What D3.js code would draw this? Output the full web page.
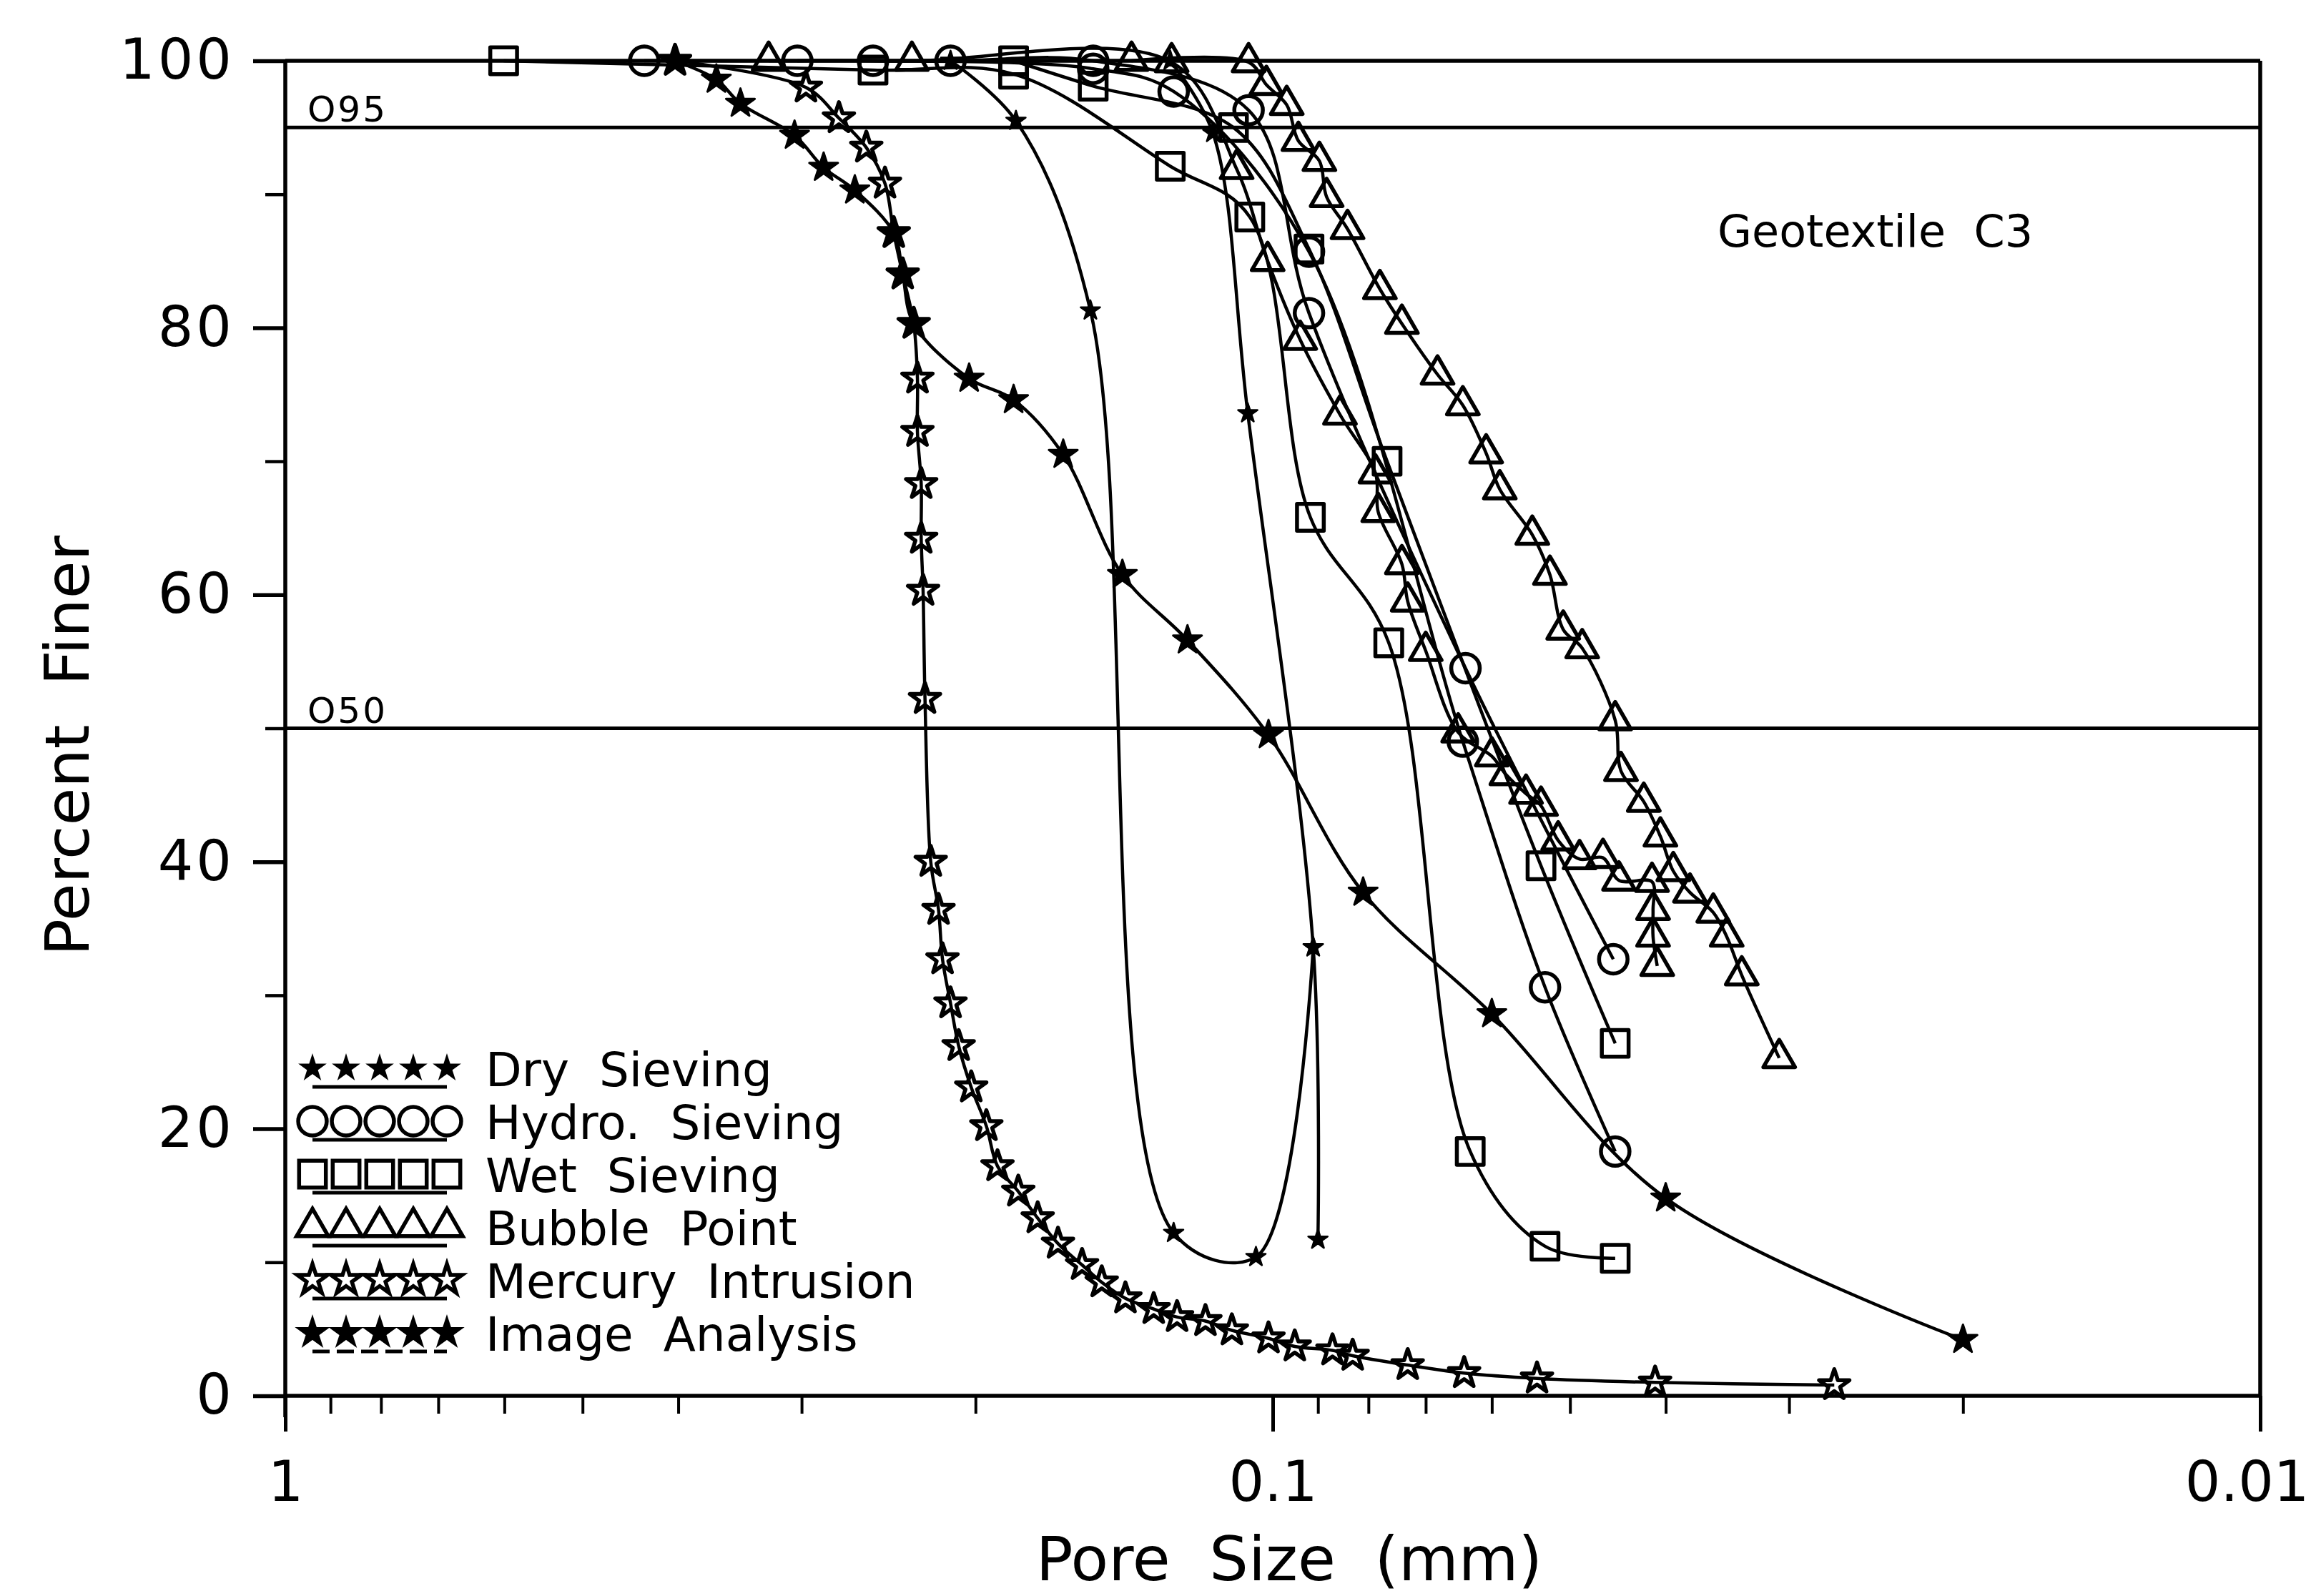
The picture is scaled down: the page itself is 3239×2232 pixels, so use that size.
<!DOCTYPE html>
<html>
<head>
<meta charset="utf-8">
<script src="https://cdn.jsdelivr.net/npm/d3@7"></script>
<style>
  body { margin: 0; background: #fff; }
  svg { display: block; background: #fff; }
  text { font-family: "DejaVu Sans", sans-serif; fill: #000; }
</style>
</head>
<body>
<svg id="chart"></svg>
<script>
// ---- data (pore size in mm, percent finer) ----
const drySize1 = [0.212, 0.182, 0.153, 0.126, 0.104, 0.091];
const dryPct1  = [100, 95.5, 81.3, 12.2, 10.4, 33.6];
const drySize2 = [0.127, 0.115, 0.106, 0.091, 0.090];
const dryPct2  = [100, 94.6, 73.6, 33.6, 11.7];

const hydroSize1 = [0.433, 0.212, 0.152, 0.1058, 0.0919, 0.0638, 0.0452];
const hydroPct1  = [100, 100, 100, 96.3, 81.1, 54.5, 32.7];
const hydroSize2 = [0.303, 0.254, 0.152, 0.126, 0.0919, 0.0642, 0.0530, 0.0450];
const hydroPct2  = [100, 100, 99.4, 97.7, 85.7, 49.0, 30.6, 18.3];

const wetSize1 = [0.601, 0.254, 0.183, 0.127, 0.1055, 0.0916, 0.0763, 0.0631, 0.0530, 0.0450];
const wetPct1  = [100, 99.3, 99.0, 92.1, 88.3, 65.8, 56.4, 18.3, 11.2, 10.3];
const wetSize2 = [0.183, 0.152, 0.1096, 0.0919, 0.0766, 0.0535, 0.0450];
const wetPct2  = [100, 98.1, 95.0, 85.9, 70.0, 39.7, 26.4];

const bubbleSize1 = [0.139, 0.1058, 0.1015, 0.0968, 0.0942, 0.0897, 0.0882, 0.0840, 0.0779, 0.0740,
  0.0681, 0.0642, 0.0608, 0.0589, 0.0546, 0.0524, 0.0508, 0.0486, 0.0450, 0.0444, 0.0421, 0.0405,
  0.0393, 0.0378, 0.0358, 0.0347, 0.0335, 0.0307];
const bubblePct1  = [100, 99.9, 98.2, 96.7, 94.0, 92.5, 89.8, 87.4, 82.9, 80.3, 76.5, 74.2, 70.6, 67.9,
  64.5, 61.5, 57.4, 56.0, 50.6, 46.8, 44.5, 41.9, 39.3, 37.7, 36.2, 34.4, 31.5, 25.3];
const bubbleSize2 = [0.324, 0.232, 0.1266, 0.1088, 0.1012, 0.0938, 0.0855, 0.0787, 0.0782, 0.0740,
  0.0730, 0.0700, 0.0649, 0.0600, 0.0580, 0.0554, 0.0535, 0.0514, 0.0489, 0.0463, 0.0446, 0.0413,
  0.0412, 0.0412, 0.0408];
const bubblePct2  = [100, 100, 99.9, 91.9, 85.0, 79.1, 73.5, 69.1, 66.2, 62.3, 59.5, 55.8, 49.7, 47.9,
  46.5, 45.1, 44.2, 41.6, 40.2, 40.3, 38.6, 38.5, 36.4, 34.4, 32.2];

const mercurySize = [0.403, 0.297, 0.275, 0.258, 0.247, 0.242, 0.237, 0.231, 0.229, 0.229, 0.227, 0.227,
  0.226, 0.225, 0.222, 0.218, 0.216, 0.212, 0.208, 0.202, 0.195, 0.190, 0.181, 0.173, 0.165, 0.156,
  0.149, 0.141, 0.132, 0.125, 0.117, 0.110, 0.101, 0.095, 0.087, 0.083, 0.073, 0.064, 0.054, 0.041, 0.027];
const mercuryPct  = [100, 98.0, 95.7, 93.5, 90.8, 87.1, 84.0, 80.3, 76.2, 72.2, 68.3, 64.2, 60.3, 52.2,
  40.0, 36.4, 32.7, 29.4, 26.2, 23.1, 20.2, 17.2, 15.3, 13.3, 11.4, 9.8, 8.5, 7.3, 6.5, 5.9, 5.6, 4.9,
  4.3, 3.7, 3.4, 3.0, 2.3, 1.7, 1.3, 1.0, 0.8];

const imageSize = [0.403, 0.366, 0.346, 0.305, 0.285, 0.265, 0.242, 0.237, 0.231, 0.203, 0.183, 0.163,
  0.142, 0.122, 0.101, 0.081, 0.060, 0.040, 0.020];
const imagePct  = [100, 98.6, 96.8, 94.4, 92.0, 90.3, 87.1, 84.0, 80.3, 76.2, 74.6, 70.5, 61.5, 56.6,
  49.5, 37.7, 28.6, 14.8, 4.2];

const methods = ["Dry  Sieving", "Hydro.  Sieving", "Wet  Sieving", "Bubble  Point", "Mercury  Intrusion", "Image  Analysis"];
const yTicks = [0, 20, 40, 60, 80, 100];
const yMinor = [10, 30, 50, 70, 90];
const xMajor = [1, 0.1, 0.01];
const refLines = [{pct: 95, label: "O95"}, {pct: 50, label: "O50"}];
const title = "Geotextile  C3";

// ---- setup ----
const W = 3239, H = 2232;
const svg = d3.select("#chart").attr("width", W).attr("height", H);

const x = d3.scaleLog().domain([1, 0.01]).range([399, 3161]);
const y = d3.scaleLinear().domain([0, 100]).range([1952, 85]);

// marker styles per method
const markers = [
  {type: d3.symbolStar,     size: 230,  fill: "#000", sw: 2.5},
  {type: d3.symbolCircle,   size: 1250, fill: "none", sw: 5.5},
  {type: d3.symbolSquare,   size: 1400, fill: "none", sw: 5.5},
  {type: d3.symbolTriangle, size: 850,  fill: "none", sw: 5.5},
  {type: d3.symbolStar,     size: 560,  fill: "none", sw: 5.5},
  {type: d3.symbolStar,     size: 500,  fill: "#000", sw: 3}
];

const zip = (s, p) => s.map((v, i) => ({s: v, p: p[i]}));
const series = [
  {m: 0, pts: zip(drySize1, dryPct1)},
  {m: 0, pts: zip(drySize2, dryPct2)},
  {m: 1, pts: zip(hydroSize1, hydroPct1)},
  {m: 1, pts: zip(hydroSize2, hydroPct2)},
  {m: 2, pts: zip(wetSize1, wetPct1)},
  {m: 2, pts: zip(wetSize2, wetPct2)},
  {m: 3, pts: zip(bubbleSize1, bubblePct1)},
  {m: 3, pts: zip(bubbleSize2, bubblePct2)},
  {m: 4, pts: zip(mercurySize, mercuryPct)},
  {m: 5, pts: zip(imageSize, imagePct)}
];

// ---- axes ----
const xMinor = [];
[1, 0.1].forEach(dec => { for (let k = 2; k <= 9; k++) xMinor.push(dec * k / 10); });

svg.append("g").attr("transform", `translate(0,${y(0)})`)
  .call(d3.axisBottom(x).tickValues(xMinor).tickSize(25).tickFormat(""))
  .call(g => g.select(".domain").remove())
  .call(g => g.selectAll("line").attr("stroke", "#000").attr("stroke-width", 4));

svg.append("g").attr("transform", `translate(0,${y(0)})`)
  .call(d3.axisBottom(x).tickValues(xMajor).tickSize(50).tickPadding(42).tickFormat(d => String(d)))
  .call(g => g.select(".domain").remove())
  .call(g => g.selectAll("line").attr("stroke", "#000").attr("stroke-width", 5))
  .call(g => g.selectAll("text").attr("font-size", 78).attr("font-family", "DejaVu Sans").attr("fill", "#000"))
  // last label sits at the right edge of the page, keep it inside
  .call(g => g.selectAll("text").filter(d => d === 0.01).attr("text-anchor", "end").attr("dx", 68));

svg.append("g").attr("transform", `translate(${x(1)},0)`)
  .call(d3.axisLeft(y).tickValues(yMinor).tickSize(28).tickFormat(""))
  .call(g => g.select(".domain").remove())
  .call(g => g.selectAll("line").attr("stroke", "#000").attr("stroke-width", 4.5));

svg.append("g").attr("transform", `translate(${x(1)},0)`)
  .call(d3.axisLeft(y).tickValues(yTicks).tickSize(45).tickPadding(26))
  .call(g => g.select(".domain").remove())
  .call(g => g.selectAll("line").attr("stroke", "#000").attr("stroke-width", 5.5))
  .call(g => g.selectAll("text").attr("font-size", 78).attr("letter-spacing", 4)
    .attr("font-family", "DejaVu Sans").attr("fill", "#000"));

// frame
const frame = svg.append("g").attr("stroke", "#000").attr("stroke-width", 5.5).attr("fill", "none");
frame.append("line").attr("x1", x(1)).attr("x2", x(1)).attr("y1", y(100) - 2).attr("y2", y(0) + 30);
frame.append("line").attr("x1", x(1)).attr("x2", x(0.01)).attr("y1", y(0)).attr("y2", y(0));
frame.append("line").attr("x1", x(1)).attr("x2", x(0.01)).attr("y1", y(100)).attr("y2", y(100));
frame.append("line").attr("x1", x(0.01)).attr("x2", x(0.01)).attr("y1", y(100)).attr("y2", y(0));

// O95 / O50 lines
refLines.forEach(r => {
  svg.append("line").attr("x1", x(1)).attr("x2", x(0.01))
    .attr("y1", y(r.pct)).attr("y2", y(r.pct))
    .attr("stroke", "#000").attr("stroke-width", 5);
  svg.append("text").attr("x", 430).attr("y", y(r.pct) - 8)
    .attr("font-size", 50).attr("letter-spacing", 3).text(r.label);
});

// ---- curves ----
const line = d3.line()
  .x(d => x(d.s))
  .y(d => y(d.p))
  .curve(d3.curveCatmullRom.alpha(0.5));

const plot = svg.append("g");
series.forEach(sr => {
  plot.append("path").datum(sr.pts)
    .attr("d", line)
    .attr("fill", "none").attr("stroke", "#000").attr("stroke-width", 4.5);
});

series.forEach(sr => {
  const mk = markers[sr.m];
  plot.selectAll(null).data(sr.pts).enter().append("path")
    .attr("transform", d => `translate(${x(d.s)},${y(d.p)})`)
    .attr("d", d3.symbol().type(mk.type).size(mk.size))
    .attr("fill", mk.fill).attr("stroke", "#000").attr("stroke-width", mk.sw)
    .attr("stroke-linejoin", "round");
});

// ---- legend ----
const legend = svg.append("g");
methods.forEach((name, i) => {
  const ry = 1494 + i * 74;
  const mk = markers[i];
  legend.append("line").attr("x1", 437).attr("x2", 625).attr("y1", ry + 26).attr("y2", ry + 26)
    .attr("stroke", "#000").attr("stroke-width", 5)
    .attr("stroke-dasharray", i === 5 ? "24,10" : null);
  d3.range(5).forEach(j => {
    legend.append("path")
      .attr("transform", `translate(${437 + j * 47},${ry})`)
      .attr("d", d3.symbol().type(mk.type).size(i === 0 ? 320 : mk.size))
      .attr("fill", mk.fill).attr("stroke", "#000").attr("stroke-width", mk.sw);
  });
  legend.append("text").attr("x", 679).attr("y", ry + 25)
    .attr("font-size", 66).style("white-space", "pre").text(name);
});

// ---- titles ----
svg.append("text").attr("x", 2402).attr("y", 345).attr("font-size", 62)
  .style("white-space", "pre").text(title);

svg.append("text").attr("x", 1803).attr("y", 2210).attr("text-anchor", "middle")
  .attr("font-size", 86).style("white-space", "pre").text("Pore  Size  (mm)");

svg.append("text").attr("transform", "translate(124,1043) rotate(-90)")
  .attr("text-anchor", "middle").attr("font-size", 86)
  .style("white-space", "pre").text("Percent  Finer");
</script>
</body>
</html>
